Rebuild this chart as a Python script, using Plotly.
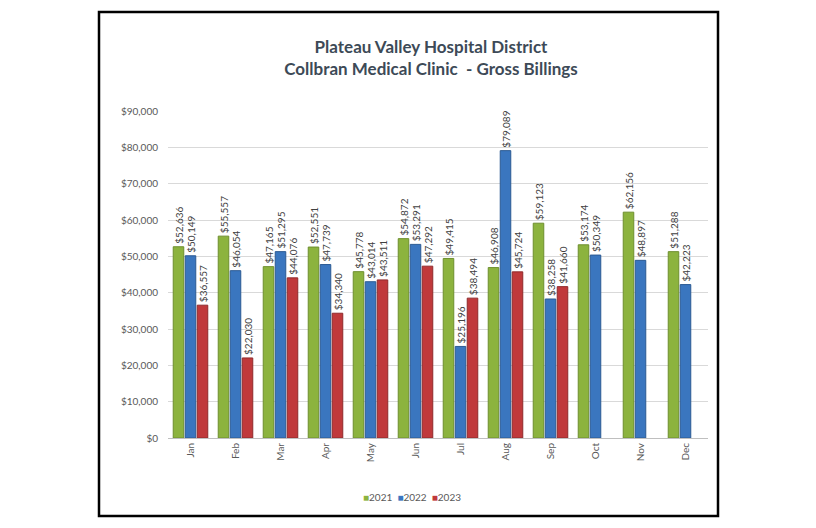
import plotly.graph_objects as go

months = ["Jan", "Feb", "Mar", "Apr", "May", "Jun", "Jul", "Aug", "Sep", "Oct", "Nov", "Dec"]
y2021 = [52636, 55557, 47165, 52551, 45778, 54872, 49415, 46908, 59123, 53174, 62156, 51288]
y2022 = [50149, 46054, 51295, 47739, 43014, 53291, 25196, 79089, 38258, 50349, 48897, 42223]
y2023 = [36557, 22030, 44076, 34340, 43511, 47292, 38494, 45724, 41660, None, None, None]

series = [("2021", y2021, "#8cb33e", "#6e8f2e"),
          ("2022", y2022, "#3a76bf", "#2b5a93"),
          ("2023", y2023, "#c0393b", "#8f2a2b")]

FONT = "Lato, 'Open Sans', sans-serif"
fig = go.Figure()
for name, vals, col, lcol in series:
    fig.add_trace(go.Bar(
        x=months, y=vals, name=name,
        marker=dict(color=col, line=dict(color=lcol, width=1)),
        texttemplate="$%{y:,}", textposition="outside", textangle=-90,
        textfont=dict(size=10, color="#404040", family=FONT),
        cliponaxis=False, constraintext="none",
    ))

# page body has an 8px offset; coordinates below are target pixels minus 8
OFF = 8
W, H = 816, 528
L, T = 168 - OFF, 111 - OFF
R = W - (708 - OFF)
B = H - (438 - OFF)
pw, ph = W - L - R, H - T - B

def px(x):
    return (x - OFF - L) / pw

def py(y):
    return (H - B - (y - OFF)) / ph

legend_text = ('<span style="color:#8cb33e">■</span>2021  '
               '<span style="color:#3a76bf">■</span>2022  '
               '<span style="color:#c0393b">■</span>2023')

fig.update_layout(
    width=W, height=H,
    margin=dict(l=L, r=R, t=T, b=B, autoexpand=False),
    paper_bgcolor="white", plot_bgcolor="white",
    barmode="group", bargap=0.2, bargroupgap=0.12,
    font=dict(family=FONT, color="#595959", size=10),
    title=dict(text="<b>Plateau Valley Hospital District<br>Collbran Medical Clinic  - Gross Billings</b>",
               x=(431 - OFF) / W, xanchor="center", y=1 - (53 - OFF) / H, yanchor="middle",
               font=dict(size=17, color="#3d4a57", family=FONT)),
    showlegend=False,
    annotations=[dict(text=legend_text, xref="paper", yref="paper",
                      x=px(412), y=py(497), xanchor="center", yanchor="middle",
                      showarrow=False, font=dict(size=10, color="#595959", family=FONT))],
    xaxis=dict(tickangle=-90, showgrid=False, showline=True, linecolor="#bfbfbf",
               ticks="", tickfont=dict(size=10, color="#595959")),
    yaxis=dict(range=[0, 90000], dtick=10000, tickprefix="$", tickformat=",",
               gridcolor="#d9d9d9", zeroline=False, showline=False, ticks="",
               ticklabelstandoff=9,
               tickfont=dict(size=10, color="#595959")),
    shapes=[dict(type="rect", xref="paper", yref="paper",
                 x0=px(99), x1=px(718), y0=py(516), y1=py(12),
                 line=dict(color="black", width=2.5), fillcolor="rgba(0,0,0,0)", layer="below")],
)

fig.write_html("out.html")
